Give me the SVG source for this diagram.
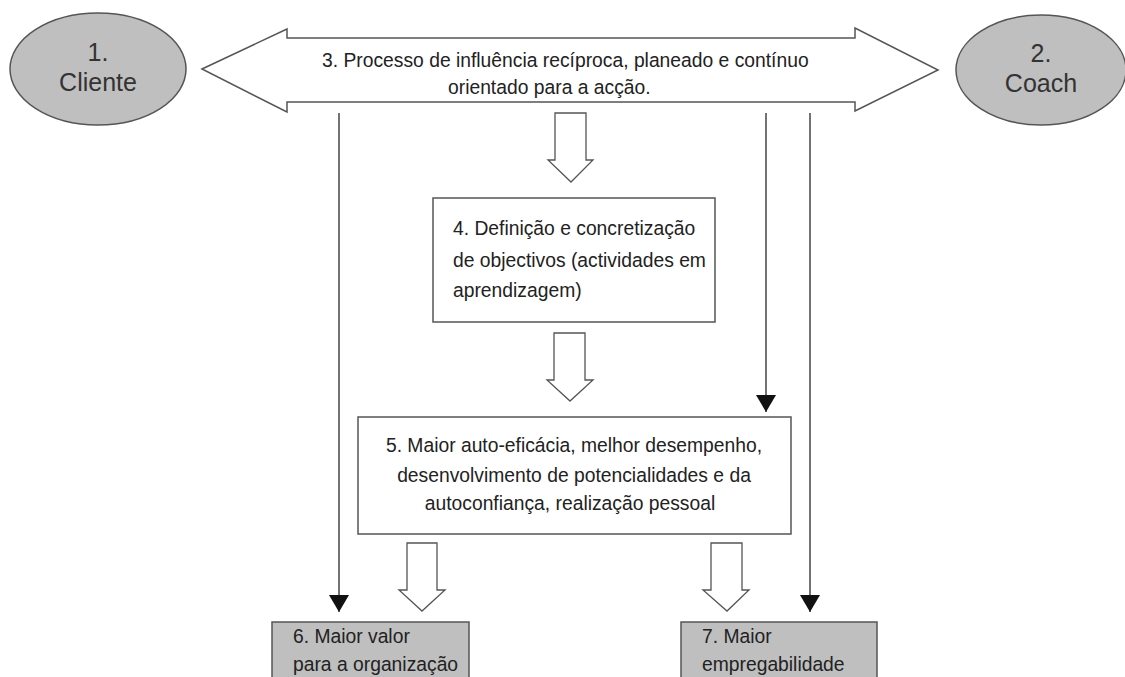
<svg xmlns="http://www.w3.org/2000/svg" width="1125" height="677" viewBox="0 0 1125 677">
<defs>
<style>
.t{font-family:"Liberation Sans",Arial,sans-serif;font-size:19.3px;fill:#222}
.big{font-family:"Liberation Sans",Arial,sans-serif;font-size:25px;fill:#333}
.gray{fill:#bfbfbf;stroke:#555;stroke-width:1.5}
.box{fill:#fff;stroke:#555;stroke-width:1.5}
.blk{fill:#fff;stroke:#555;stroke-width:1.3}
.ln{stroke:#444;stroke-width:1.5;fill:none}
</style>
<marker id="ah" viewBox="0 0 17 20" refX="17" refY="10" markerWidth="17" markerHeight="20" markerUnits="userSpaceOnUse" orient="auto">
<path d="M0,0 L17,10 L0,20 Z" fill="#111"/>
</marker>
</defs>
<rect width="1125" height="677" fill="#fff"/>

<g id="n1">
<ellipse class="gray" cx="98" cy="69" rx="88" ry="56"/>
<text class="big" x="98" y="61" text-anchor="middle">1.</text>
<text class="big" x="98" y="91" text-anchor="middle">Cliente</text>
</g>

<g id="n2">
<ellipse class="gray" cx="1041" cy="70" rx="85" ry="55"/>
<text class="big" x="1041" y="62" text-anchor="middle">2.</text>
<text class="big" x="1041" y="92" text-anchor="middle">Coach</text>
</g>

<g id="n3">
<path class="box" d="M202,69 L287,29 L287,38 L855,38 L855,28 L938,70 L855,111 L855,102 L287,102 L287,112 Z"/>
<text class="t" x="322" y="67">3. Processo de influência recíproca, planeado e contínuo</text>
<text class="t" x="448" y="94">orientado para a acção.</text>
</g>

<g id="n4">
<rect class="box" x="433" y="198" width="282" height="124"/>
<text class="t" x="453" y="235">4. Definição e concretização</text>
<text class="t" x="453" y="267">de objectivos (actividades em</text>
<text class="t" x="453" y="297">aprendizagem)</text>
</g>

<g id="n5">
<rect class="box" x="358" y="417" width="433" height="117"/>
<text class="t" x="574" y="452" text-anchor="middle">5. Maior auto-eficácia, melhor desempenho,</text>
<text class="t" x="574" y="482" text-anchor="middle">desenvolvimento de potencialidades e da</text>
<text class="t" x="570" y="510" text-anchor="middle">autoconfiança, realização pessoal</text>
</g>

<g id="n6">
<rect class="gray" x="272" y="622" width="197" height="70"/>
<text class="t" x="293" y="643">6. Maior valor</text>
<text class="t" x="293" y="671">para a organização</text>
</g>

<g id="n7">
<rect class="gray" x="681" y="622" width="196" height="70"/>
<text class="t" x="702" y="643">7. Maior</text>
<text class="t" x="702" y="671">empregabilidade</text>
</g>

<g id="connectors">
<path class="blk" d="M555,113 L586,113 L586,160 L593,160 L571,182 L548,160 L555,160 Z"/>
<path class="blk" d="M554,333 L585,333 L585,380 L593,380 L570,401 L547,380 L554,380 Z"/>
<path class="blk" d="M407,543 L437,543 L437,590 L445,590 L422,611 L399,590 L407,590 Z"/>
<path class="blk" d="M711,543 L742,543 L742,590 L749,590 L727,611 L703,590 L711,590 Z"/>
<line class="ln" x1="339" y1="113" x2="339" y2="612" marker-end="url(#ah)"/>
<line class="ln" x1="766" y1="113" x2="766" y2="412" marker-end="url(#ah)"/>
<line class="ln" x1="810" y1="113" x2="810" y2="612" marker-end="url(#ah)"/>
</g>
</svg>
